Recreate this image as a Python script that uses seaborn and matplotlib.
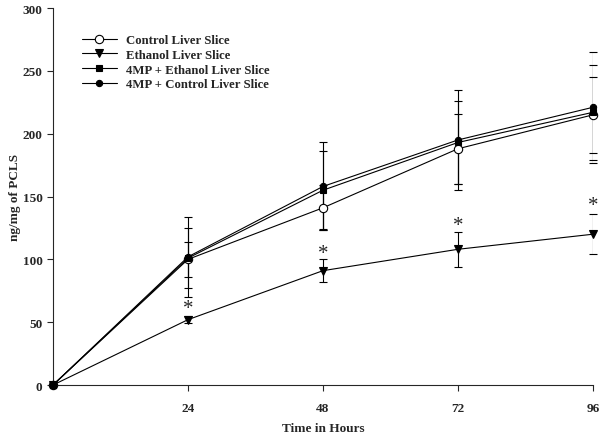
import numpy as np
import pandas as pd
import seaborn as sns
from matplotlib import pyplot as plt

hours = [0, 24, 48, 72, 96]
series_names = ['Control Liver Slice', 'Ethanol Liver Slice',
                '4MP + Ethanol Liver Slice', '4MP + Control Liver Slice']
control = [0, 100, 141, 188, 215]
control_err = [0, 14, 18, 28, 30]
ethanol = [0, 52, 91, 108, 120]
ethanol_err = [0, 3, 9, 14, 16]
mp_ethanol = [0, 101, 155, 193, 217]
mp_ethanol_err = [0, 24, 31, 33, 38]
mp_control = [0, 102, 158, 195, 221]
mp_control_err = [0, 32, 35, 40, 44]
star_hours = [24, 48, 72, 96]
star_values = [61, 105, 127, 143]

sns.set_style('ticks')
plt.rcParams['font.family'] = ['Liberation Serif', 'DejaVu Serif']
plt.rcParams['font.weight'] = 'bold'

df = pd.DataFrame({
    'hours': hours * 4,
    'value': control + ethanol + mp_ethanol + mp_control,
    'err': control_err + ethanol_err + mp_ethanol_err + mp_control_err,
    'group': np.repeat(series_names, len(hours)),
})

styles = {
    'Control Liver Slice': dict(marker='o', mfc='white', ms=6),
    'Ethanol Liver Slice': dict(marker='v', mfc='black', ms=6),
    '4MP + Ethanol Liver Slice': dict(marker='s', mfc='black', ms=4),
    '4MP + Control Liver Slice': dict(marker='o', mfc='black', ms=4.5),
}

fig = plt.figure(figsize=(6.02, 4.35), dpi=100)
ax = fig.add_axes([0.088, 0.1126, 0.897, 0.8667])

for name in series_names:
    sub = df[df['group'] == name]
    ax.errorbar(sub['hours'], sub['value'], yerr=sub['err'], fmt='none',
                ecolor='black', elinewidth=0.8, capsize=3, capthick=0.8, zorder=2)
for name in series_names:
    sub = df[df['group'] == name]
    st = styles[name]
    sns.lineplot(data=sub, x='hours', y='value', ax=ax, color='black', lw=0.8,
                 marker=st['marker'], markersize=st['ms'], markerfacecolor=st['mfc'],
                 markeredgecolor='black', markeredgewidth=0.8, label=name, zorder=3)

for h, v in zip(star_hours, star_values):
    ax.text(h, v, '*', ha='center', va='center', fontsize=15, fontweight='normal')

ax.set_xlim(0, 96)
ax.set_ylim(0, 300)
ax.set_xticks([24, 48, 72, 96])
ax.set_yticks(range(0, 301, 50))
ax.tick_params(labelsize=9.5, length=4, width=0.8)
ax.tick_params(axis='x', pad=8)
for lab in ax.get_xticklabels() + ax.get_yticklabels():
    lab.set_fontweight('bold')
ax.set_xlabel('Time in Hours', fontsize=9.5, fontweight='bold', labelpad=6)
ax.set_ylabel('ng/mg of PCLS', fontsize=9.5, fontweight='bold', labelpad=1)
for s in ['top', 'right']:
    ax.spines[s].set_visible(False)
for s in ['left', 'bottom']:
    ax.spines[s].set_linewidth(0.8)
for line in ax.lines:
    line.set_clip_on(False)

ax.legend(loc='upper left', bbox_to_anchor=(0.054, 0.93), frameon=False,
          handlelength=2.7, handletextpad=0.7, labelspacing=0.2, borderaxespad=0, borderpad=0,
          prop={'weight': 'bold', 'size': 9.2})

fig.savefig('out.png', dpi=100)
